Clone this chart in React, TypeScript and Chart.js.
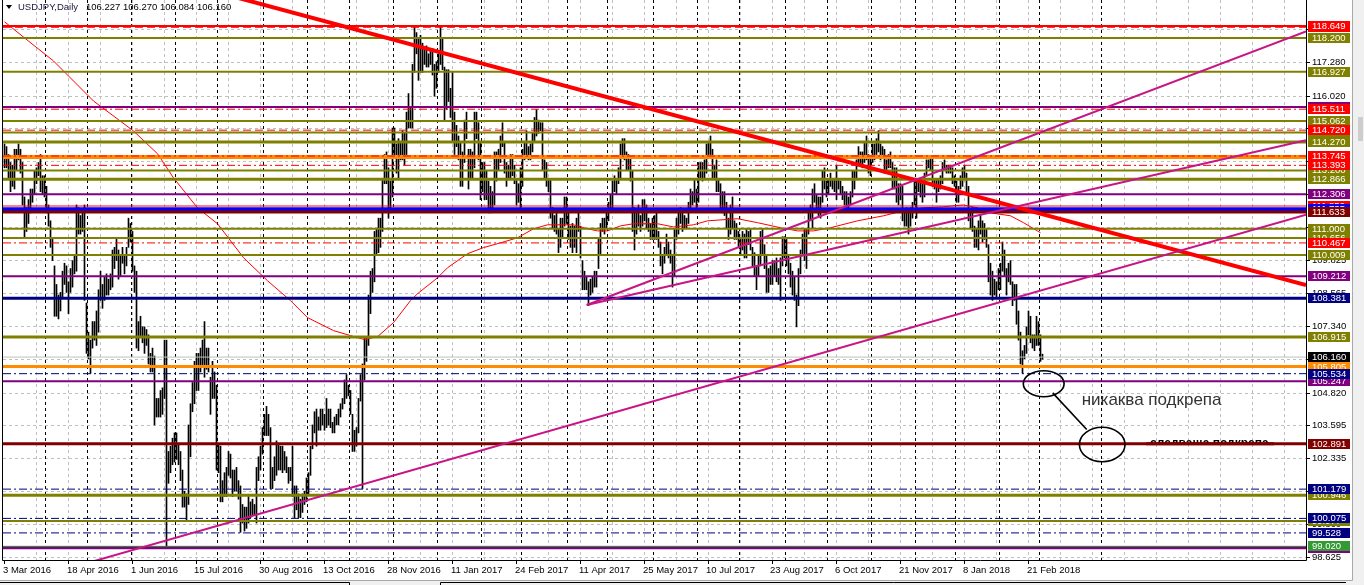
import { useEffect, useRef } from "react";
import { Chart, registerables } from "chart.js";

Chart.register(...registerables);

// ---------- DATA ----------
const START_DATE = "2016-03-03";
const HOLIDAYS = ["2017-12-25", "2018-01-01"];
const FUTURE_MARKERS = ["2018-04-01"];

const barHigh = [
  114.2,114.1,113.8,113.5,113.4,114.0,114.0,114.2,114.0,113.5,112.2,111.8,112.1,112.5,112.5,113.2,113.3,113.5,113.8,113.0,113.0,
  112.6,111.9,111.3,110.6,109.6,108.9,108.5,108.6,109.4,109.7,109.6,109.0,109.5,109.8,110.0,111.9,111.8,111.5,111.6,111.9,108.2,
  107.1,106.8,107.5,107.5,107.9,108.7,109.4,108.9,109.2,109.3,109.1,109.3,110.2,110.3,110.6,110.2,110.0,110.3,110.0,110.3,111.4,111.2,
  110.9,109.6,109.4,107.5,107.7,107.3,107.3,107.2,107.0,106.3,106.5,106.2,104.6,104.6,104.9,105.0,106.8,106.8,102.6,102.8,103.1,103.3,
  103.3,102.9,102.6,101.9,101.1,101.0,103.6,104.4,105.2,106.0,106.3,106.3,106.5,106.8,107.5,106.5,106.5,105.4,106.0,105.6,105.1,
  102.9,102.8,101.5,101.8,102.0,102.6,102.5,101.9,101.9,102.0,101.5,101.3,100.6,100.5,100.5,100.9,100.7,100.8,100.6,102.0,102.4,102.8,103.5,
  104.0,104.3,104.0,103.5,102.0,102.4,103.0,102.9,102.8,102.8,102.6,102.4,102.0,102.0,102.8,101.3,101.3,101.0,100.8,101.0,101.1,101.6,
  101.8,102.8,103.6,104.1,104.2,103.9,104.2,104.2,104.0,104.6,104.2,104.2,103.7,103.9,104.0,104.2,104.4,104.6,105.3,105.5,105.1,
  104.9,104.0,103.4,103.5,104.6,105.5,105.9,106.9,106.9,108.5,109.4,109.5,110.9,111.0,111.4,111.4,112.9,113.8,113.9,113.3,112.8,114.8,
  114.8,114.2,114.4,114.3,114.7,114.6,115.4,116.1,115.6,117.2,118.66,118.4,118.2,118.3,118.0,117.8,117.9,117.6,117.8,117.8,117.2,117.3,
  117.6,118.6,118.2,117.1,117.0,117.0,116.3,116.9,115.4,114.9,114.5,114.3,113.9,115.1,115.4,114.0,114.0,113.9,115.4,115.4,115.0,114.3,
  113.5,113.5,113.2,112.8,112.6,112.4,113.9,113.9,114.0,114.5,115.0,114.3,113.5,113.4,113.8,113.8,113.4,112.9,112.7,113.3,
  114.0,114.3,114.7,114.1,114.2,114.6,115.2,115.5,115.1,115.0,115.0,113.6,113.5,112.9,112.9,111.8,111.5,111.6,111.0,111.4,111.4,112.2,112.2,
  111.6,111.1,111.2,111.1,111.4,111.6,111.1,109.8,109.4,109.2,109.0,109.1,109.2,109.4,109.4,110.6,111.2,111.4,111.4,111.6,
  112.0,112.3,112.8,113.0,112.9,113.3,114.2,114.4,114.4,113.9,113.8,113.7,113.2,111.8,111.6,111.9,111.5,112.1,112.1,111.9,111.4,111.2,111.4,
  111.5,111.7,110.9,110.5,110.0,110.3,110.8,110.5,110.2,110.0,111.0,111.4,111.6,111.8,111.6,111.5,111.4,112.0,112.5,112.4,112.9,112.5,
  113.5,113.5,113.5,113.6,114.2,114.3,114.5,114.0,113.4,113.6,112.9,112.7,112.4,112.4,112.0,111.4,111.9,112.2,111.3,111.2,110.9,
  110.6,110.9,110.8,111.0,110.9,111.0,110.3,110.1,109.6,110.0,110.9,111.0,110.4,110.0,109.5,109.6,109.8,109.8,109.9,109.5,109.9,110.7,110.7,
  110.6,110.0,109.7,109.4,109.2,108.5,109.5,110.2,110.8,111.0,111.0,111.6,111.9,112.5,112.7,112.3,112.2,112.2,113.2,113.3,112.8,
  112.9,113.1,112.9,112.9,113.4,112.9,112.8,112.6,112.4,112.4,112.2,112.4,113.2,113.2,113.6,114.1,113.9,113.9,114.3,114.5,113.8,113.7,
  114.2,114.2,114.4,114.7,114.2,114.1,114.0,113.6,113.8,113.9,113.5,113.3,113.3,112.7,112.7,112.6,111.6,111.8,111.6,111.8,112.0,112.9,
  112.9,112.9,112.9,112.7,113.1,113.6,113.6,113.7,113.7,112.9,112.9,112.9,113.0,113.5,113.6,113.4,113.4,113.4,113.3,113.0,
  112.8,112.6,113.0,113.3,113.4,113.1,112.6,111.7,111.8,111.1,111.0,111.3,111.5,111.3,111.2,111.0,110.4,109.7,109.4,109.1,109.0,109.5,
  109.7,110.5,110.2,109.5,109.7,109.8,109.0,108.9,108.9,107.9,107.1,106.4,106.6,107.3,107.9,107.7,107.0,107.0,107.7,107.5,
  107.0,106.27,
];

const barLow = [
  113.3,113.3,112.9,112.4,112.6,112.5,113.2,113.6,113.1,111.9,110.7,110.9,111.2,111.6,112.0,112.3,112.7,113.0,112.4,112.3,112.2,
  111.6,111.1,110.3,109.8,107.7,107.7,107.6,107.9,108.4,108.9,108.6,107.8,108.6,108.8,109.3,109.4,110.8,110.8,110.9,108.3,106.3,
  106.1,105.55,106.5,106.8,106.6,107.1,108.3,108.0,108.3,108.5,108.5,108.7,108.8,109.5,109.8,109.1,109.2,109.7,109.3,109.6,110.3,110.5,
  109.4,108.6,106.5,106.4,106.9,106.7,106.3,106.6,105.9,105.6,105.6,103.6,103.9,103.9,103.9,104.0,104.6,99.0,101.4,101.8,102.1,102.2,
  102.3,102.1,101.5,100.5,100.5,99.99,100.6,102.4,104.1,104.4,104.9,104.9,105.6,105.8,105.4,105.7,105.6,104.0,104.6,104.6,101.9,
  101.8,100.7,100.7,100.9,100.9,101.7,101.6,100.9,101.1,101.1,100.8,99.55,99.9,99.6,99.7,99.9,100.1,100.2,100.2,99.9,101.5,101.9,102.5,
  103.2,103.2,103.2,101.2,101.2,101.5,101.7,101.9,101.9,101.8,101.9,101.8,101.4,101.5,100.9,100.1,100.4,100.1,100.1,100.3,100.6,100.7,
  101.0,101.7,102.7,103.3,102.8,103.4,103.4,103.6,103.4,103.5,103.6,103.5,103.3,103.3,103.6,103.6,103.9,104.2,104.4,104.6,104.7,
  104.0,102.6,102.6,102.8,103.3,104.5,101.2,105.3,106.0,106.6,107.8,108.6,109.0,110.0,110.1,110.3,110.9,112.7,112.7,111.4,111.6,112.2,
  113.7,113.1,112.9,113.6,113.6,113.4,113.8,114.8,114.8,114.8,116.9,117.6,116.6,116.9,116.9,117.2,117.1,117.1,117.2,116.8,116.0,116.3,
  116.9,117.2,117.0,115.1,115.5,115.8,115.2,114.3,113.8,114.1,113.6,112.6,112.6,113.5,114.4,112.5,112.9,112.9,113.3,114.4,113.6,112.1,
  112.4,112.1,112.1,111.6,111.6,111.7,111.9,112.8,113.2,113.5,114.1,113.1,112.6,112.9,112.9,113.0,112.7,111.9,112.0,111.8,
  112.6,113.6,113.8,113.6,113.6,113.9,114.3,114.5,114.6,114.7,113.2,112.9,112.6,112.4,111.4,111.0,110.9,110.8,110.1,110.3,110.7,111.1,111.2,
  110.6,110.3,110.1,110.3,110.1,110.9,109.9,108.7,108.7,108.7,108.1,108.5,108.6,108.8,108.8,109.5,110.0,110.9,110.8,111.0,
  111.3,111.7,111.8,112.4,112.3,112.7,112.9,113.7,113.6,113.2,113.2,112.8,110.9,110.2,110.8,111.1,110.9,111.1,111.3,111.0,110.9,110.6,110.6,
  110.6,110.6,110.3,109.6,109.3,109.7,110.0,109.9,109.7,108.8,109.2,110.6,110.8,111.2,110.9,111.0,111.0,111.2,111.7,111.9,112.0,111.8,
  112.0,112.9,112.8,112.9,113.1,113.8,113.8,112.9,112.9,112.4,112.4,111.7,111.6,111.5,111.0,110.6,110.8,111.0,110.6,110.6,110.3,
  110.0,110.2,109.9,109.9,110.4,110.2,109.6,109.2,108.7,109.2,109.6,110.0,109.5,108.6,108.6,108.9,108.9,109.2,109.0,108.9,108.3,109.6,109.9,
  109.6,109.3,108.8,108.5,108.3,107.3,108.1,109.3,110.0,109.8,109.5,110.8,111.3,111.0,112.0,111.7,111.5,111.4,112.0,112.5,112.2,
  112.3,112.6,112.5,112.4,112.1,112.5,112.3,112.1,111.9,111.7,111.7,111.9,112.2,112.5,112.9,113.4,113.4,113.3,113.5,113.6,113.1,113.0,
  113.5,113.6,113.8,113.9,113.6,113.7,113.1,113.2,113.3,113.3,112.5,112.5,112.0,111.9,112.1,111.3,111.1,111.1,110.8,111.1,111.4,111.9,
  111.4,112.4,112.2,112.0,112.2,113.0,113.3,113.2,112.6,112.5,112.0,112.4,112.5,112.7,113.2,113.1,113.1,113.1,112.7,112.6,
  112.0,112.0,112.5,112.6,112.9,112.3,111.3,111.0,110.9,110.3,110.3,110.2,110.8,110.5,110.6,110.3,109.0,108.5,108.3,108.5,108.4,108.7,
  108.7,109.4,109.2,108.5,109.0,108.9,108.1,108.3,107.4,106.8,105.9,105.55,106.1,106.3,107.0,106.7,106.5,106.4,106.6,106.6,
  106.0,106.08,
];

// moving average (read at sample bars)
const maIndex = [0,12,24.5,44.5,64.5,76.5,84.5,96.5,106.5,119.5,131.5,143,151.5,164.5,173,180,186.5,194.5,203,206.5,216.5,221.5,231.5,239.5,248,256.5,264.5,271.5,284.5,291.5,296.5,301.5,308,314.5,326.5,334.5,344.5,351.5,366.5,376.5,388,396.5,404.5,413,426.5,439.5,449.5,459.5,469.5,479.5,486.5,493,503,509.5,518];
const maValue = [118.81,118.08,117.33,115.82,114.69,113.83,112.92,111.79,111.19,109.91,109.04,108.29,107.65,107.16,106.97,106.82,106.93,107.46,108.29,108.55,109.15,109.53,110.06,110.29,110.47,110.66,111.0,111.15,111.15,111.0,110.92,110.92,111.11,111.19,111.19,111.07,111.15,111.3,111.38,111.23,111.04,110.92,110.92,111.04,111.3,111.49,111.68,111.79,111.83,111.9,111.79,111.6,111.49,111.23,110.85];

// horizontal levels (label drawing follows this order)
const levelPrice = [118.600,118.649,118.200,116.927,115.594,115.511,115.062,114.632,114.720,114.270,113.707,113.745,113.200,113.393,112.866,112.306,111.859,111.735,111.633,110.656,111.000,110.467,110.009,109.212,108.381,106.915,105.805,106.160,105.247,105.534,102.891,100.946,101.179,99.977,100.075,99.528,98.969,99.020];
const levelColor = ["#FF0000","#FF0000","#808000","#808000","#800080","#FF0000","#808000","#808000","#FF0000","#808000","#FF8C00","#FF0000","#808000","#FF0000","#808000","#800080","#FF0000","#0000FF","#800000","#808000","#808000","#FF0000","#808000","#800080","#000080","#808000","#FF8C00","#C0C0C0","#800080","#000080","#800000","#808000","#000080","#808000","#000080","#000080","#800080","#2E8B2E"];
const levelWidth = [1,2,2,2,2,1,2,2,1,3,4,1,2,1,3,2,1,4,3,2,2,1,2,2,3,3,3,1,2,1,3,3,1,2,1,1,3,1];
const levelStyle = ["dash","solid","solid","solid","solid","dashdot","solid","solid","dash","solid","solid","dashdot","solid","dashdot","solid","solid","solid","solid","solid","solid","solid","dashdot","solid","solid","solid","solid","solid","solid","solid","dashdot","solid","solid","dashdot","solid","dashdot","dashdot","solid","solid"];
const levelLabelBg = ["#FF0000","#FF0000","#808000","#808000","#800080","#FF0000","#808000","#808000","#FF0000","#808000","#FF8C00","#FF0000","#808000","#FF0000","#808000","#800080","#FF0000","#0000FF","#800000","#808000","#808000","#FF0000","#808000","#800080","#000080","#808000","#FF8C00","#000000","#800080","#000080","#800000","#808000","#000080","#808000","#000080","#000080","#800080","#339933"];

// trend lines: [startIndex, startPrice, endIndex, endPrice]
const trendStartIdx = [100, 291.1, 291.1, 37.75];
const trendStartPrice = [120.05, 108.125, 108.125, 98.313];
const trendEndIdx = [650.75, 650.75, 650.75, 650.75];
const trendEndPrice = [108.879, 118.445, 114.341, 111.531];
const trendColor = ["#FF0000", "#C71585", "#C71585", "#C71585"];
const trendWidth = [4, 2, 2, 2];

// price scale ticks
const gridValues = [98.625,99.86,101.10,102.335,103.595,104.820,106.08,107.340,108.565,109.825,111.07,112.32,113.56,114.80,116.020,117.280,118.52];
const gridTexts = ["98.625","99.860","101.100","102.335","103.595","104.820","106.080","107.340","108.565","109.825","111.070","112.320","113.560","114.800","116.020","117.280",""];

// time scale labels (every 32 bars)
const dateLabels = ["3 Mar 2016","18 Apr 2016","1 Jun 2016","15 Jul 2016","30 Aug 2016","13 Oct 2016","28 Nov 2016","11 Jan 2017","24 Feb 2017","11 Apr 2017","25 May 2017","10 Jul 2017","23 Aug 2017","6 Oct 2017","21 Nov 2017","8 Jan 2018","21 Feb 2018"];

const headerSymbol = "USDJPY,Daily";
const headerOHLC = "106.227 106.270 106.084 106.160";

// annotations (index, price)
const note1 = { idx: 519.6, price: 105.156, rIdx: 10.2, rPrice: 0.49 };
const note2 = { idx: 548.85, price: 102.862, rIdx: 11.4, rPrice: 0.65 };
const noteLink = [524.1, 104.81, 541.1, 103.43];
const noteText = "никаква подкрепа";
const noteTextPos = [538.6, 104.515];
const hiddenText = "следваща подкрепа";
const hiddenTextPos = [572.8, 102.891];

// ---------- LAYOUT CONSTANTS ----------
const W = 1364;
const H = 585;
const X_MIN = -0.75;
const X_MAX = 650.75;
const Y_MIN = 98.506;
const Y_MAX = 119.63;
const FONT = "9.5px 'Liberation Sans', Arial, sans-serif";

function barDates(n: number) {
  const out: Date[] = [];
  const d = new Date(START_DATE + "T00:00:00Z");
  while (out.length < n) {
    const dow = d.getUTCDay();
    const iso = d.toISOString().slice(0, 10);
    if (dow !== 0 && dow !== 6 && !HOLIDAYS.includes(iso)) out.push(new Date(d.getTime()));
    d.setUTCDate(d.getUTCDate() + 1);
  }
  return out;
}

function dashFor(style: string) {
  if (style === "dash") return [8, 4];
  if (style === "dashdot") return [8, 3, 2, 3];
  return [];
}

export default function App() {
  const ref = useRef<HTMLCanvasElement | null>(null);

  useEffect(() => {
    const canvas = ref.current;
    if (!canvas) return;
    const n = barHigh.length;
    const dates = barDates(n);
    const separators: number[] = [];
    for (let i = 1; i < n; i++) {
      if (dates[i].getUTCMonth() !== dates[i - 1].getUTCMonth()) separators.push(i);
    }
    const last = dates[n - 1].getTime();
    FUTURE_MARKERS.forEach((s) => {
      const t = new Date(s + "T00:00:00Z").getTime();
      separators.push(n - 1 + Math.round((t - last) / 86400000));
    });

    const bars = barHigh.map((h, i) => ({ x: i, y: [barLow[i], h] }));

    const datasets: any[] = [];
    datasets.push({
      type: "bar",
      data: bars,
      backgroundColor: "#000000",
      borderWidth: 0,
      barThickness: 1,
      order: 100,
    });
    datasets.push({
      type: "line",
      data: maIndex.map((x, i) => ({ x, y: maValue[i] })),
      borderColor: "#FF0000",
      borderWidth: 1,
      pointRadius: 0,
      tension: 0,
      order: 60,
    });
    levelPrice.forEach((p, i) => {
      datasets.push({
        type: "line",
        data: [
          { x: X_MIN, y: p },
          { x: X_MAX, y: p },
        ],
        borderColor: levelColor[i],
        borderWidth: levelWidth[i],
        borderDash: dashFor(levelStyle[i]),
        pointRadius: 0,
        order: 50 - i * 0.1,
      });
    });
    trendStartIdx.forEach((s, i) => {
      datasets.push({
        type: "line",
        data: [
          { x: s, y: trendStartPrice[i] },
          { x: trendEndIdx[i], y: trendEndPrice[i] },
        ],
        borderColor: trendColor[i],
        borderWidth: trendWidth[i],
        pointRadius: 0,
        order: 5 - i * 0.1,
      });
    });

    const plugin = {
      id: "mt4",
      beforeDraw(chart: any) {
        const ctx = chart.ctx;
        ctx.save();
        ctx.fillStyle = "#ffffff";
        ctx.fillRect(0, 0, chart.width, chart.height);
        ctx.restore();
      },
      beforeDatasetsDraw(chart: any) {
        const ctx = chart.ctx;
        const xs = chart.scales.x;
        const ys = chart.scales.y;
        const a = chart.chartArea;
        ctx.save();
        ctx.lineWidth = 1;
        ctx.setLineDash([3, 3]);
        ctx.strokeStyle = "#C0C0C0";
        for (let k = 1; k * 16 <= X_MAX; k++) {
          const x = Math.floor(xs.getPixelForValue(k * 16)) + 0.5;
          if (x >= a.right) break;
          ctx.beginPath();
          ctx.moveTo(x, a.top);
          ctx.lineTo(x, a.bottom);
          ctx.stroke();
        }
        gridValues.forEach((v) => {
          const y = Math.round(ys.getPixelForValue(v)) + 0.5;
          ctx.beginPath();
          ctx.moveTo(a.left, y);
          ctx.lineTo(a.right, y);
          ctx.stroke();
        });
        ctx.strokeStyle = "#000000";
        separators.forEach((i) => {
          const x = Math.round(xs.getPixelForValue(i) - 1.5) + 0.5;
          if (x >= a.right) return;
          ctx.beginPath();
          ctx.moveTo(x, a.top);
          ctx.lineTo(x, a.bottom);
          ctx.stroke();
        });
        ctx.restore();
      },
      afterDatasetsDraw(chart: any) {
        const ctx = chart.ctx;
        const xs = chart.scales.x;
        const ys = chart.scales.y;
        const a = chart.chartArea;
        const X = (v: number) => xs.getPixelForValue(v);
        const Y = (v: number) => ys.getPixelForValue(v);
        ctx.save();

        // annotations
        ctx.strokeStyle = "#000000";
        ctx.lineWidth = 1.6;
        ctx.setLineDash([]);
        [note1, note2].forEach((e) => {
          const cx = X(e.idx);
          const cy = Y(e.price);
          const rx = X(e.idx + e.rIdx) - cx;
          const ry = cy - Y(e.price + e.rPrice);
          ctx.beginPath();
          ctx.ellipse(cx, cy, rx, ry, 0, 0, Math.PI * 2);
          ctx.stroke();
        });
        ctx.beginPath();
        ctx.moveTo(X(noteLink[0]), Y(noteLink[1]));
        ctx.lineTo(X(noteLink[2]), Y(noteLink[3]));
        ctx.stroke();
        ctx.fillStyle = "#333333";
        ctx.font = "17px 'Liberation Sans', Arial, sans-serif";
        ctx.textBaseline = "middle";
        ctx.textAlign = "left";
        ctx.fillText(noteText, X(noteTextPos[0]), Y(noteTextPos[1]));
        // text partly hidden under the support line
        const hy = Y(hiddenTextPos[1]);
        ctx.save();
        ctx.beginPath();
        ctx.rect(X(hiddenTextPos[0]) - 2, hy - 4, 120, 4);
        ctx.clip();
        ctx.fillStyle = "#000000";
        ctx.font = "bold 12px 'Liberation Sans', Arial, sans-serif";
        ctx.textBaseline = "alphabetic";
        ctx.fillText(hiddenText, X(hiddenTextPos[0]), hy + 3);
        ctx.restore();
        ctx.strokeStyle = "#800000";
        ctx.lineWidth = 3;
        ctx.beginPath();
        ctx.moveTo(X(hiddenTextPos[0]) - 4, hy);
        ctx.lineTo(X(hiddenTextPos[0]) + 124, hy);
        ctx.stroke();

        // frame
        ctx.strokeStyle = "#000000";
        ctx.lineWidth = 1;
        ctx.beginPath();
        ctx.moveTo(a.left - 0.5, 0);
        ctx.lineTo(a.left - 0.5, a.bottom + 0.5);
        ctx.lineTo(a.right + 0.5, a.bottom + 0.5);
        ctx.lineTo(a.right + 0.5, 0);
        ctx.stroke();

        // time labels
        ctx.font = FONT;
        ctx.fillStyle = "#000000";
        ctx.textBaseline = "middle";
        dateLabels.forEach((t, k) => {
          const x = X(k * 32);
          ctx.beginPath();
          ctx.moveTo(Math.floor(x) + 0.5, a.bottom + 1);
          ctx.lineTo(Math.floor(x) + 0.5, a.bottom + 4);
          ctx.stroke();
          ctx.fillText(t, Math.round(x) - 2, a.bottom + 10.5);
        });

        // price scale plain ticks
        gridValues.forEach((v, k) => {
          const y = Math.round(Y(v));
          ctx.beginPath();
          ctx.moveTo(a.right + 1, y + 0.5);
          ctx.lineTo(a.right + 4, y + 0.5);
          ctx.stroke();
          if (gridTexts[k]) ctx.fillText(gridTexts[k], a.right + 6, y + 0.5);
        });

        // level labels
        levelPrice.forEach((p, i) => {
          const y = Math.round(Y(p));
          ctx.fillStyle = levelLabelBg[i];
          ctx.fillRect(a.right + 2, y - 5, 42, 10);
          ctx.fillStyle = "#ffffff";
          ctx.fillText(p.toFixed(3), a.right + 6, y + 0.5);
        });

        // header
        ctx.fillStyle = "#000000";
        ctx.beginPath();
        ctx.moveTo(6, 5);
        ctx.lineTo(12, 5);
        ctx.lineTo(9, 9);
        ctx.closePath();
        ctx.fill();
        ctx.font = FONT;
        ctx.fillStyle = "#1a1a3a";
        ctx.fillText(headerSymbol, 18, 7);
        ctx.fillStyle = "#000000";
        ctx.fillText(headerOHLC, 86, 7);

        // window chrome
        ctx.fillStyle = "#F0F0F0";
        ctx.fillRect(1353, 0, 11, H);
        ctx.fillRect(0, 581, 1353, 4);
        ctx.strokeStyle = "#A8A8A8";
        ctx.beginPath();
        ctx.moveTo(1352.5, 0);
        ctx.lineTo(1352.5, 580.5);
        ctx.lineTo(0, 580.5);
        ctx.stroke();
        ctx.fillStyle = "#CDCDCD";
        ctx.fillRect(1358, 117, 5, 24);
        ctx.strokeStyle = "#000000";
        ctx.beginPath();
        ctx.moveTo(0, 582.5);
        ctx.lineTo(349.5, 582.5);
        ctx.lineTo(349.5, H);
        ctx.moveTo(440.5, H);
        ctx.lineTo(440.5, 582.5);
        ctx.lineTo(1346, 582.5);
        ctx.stroke();

        ctx.restore();
      },
    };

    const chart = new Chart(canvas, {
      type: "bar",
      data: { datasets },
      options: {
        animation: false,
        responsive: false,
        devicePixelRatio: 1,
        events: [],
        layout: { padding: { left: 3, right: 58, top: 0, bottom: 25 } },
        plugins: { legend: { display: false }, tooltip: { enabled: false } },
        scales: {
          x: { type: "linear", min: X_MIN, max: X_MAX, display: false, offset: false },
          y: { type: "linear", min: Y_MIN, max: Y_MAX, display: false },
        },
      } as any,
      plugins: [plugin],
    } as any);

    return () => chart.destroy();
  }, []);

  return (
    <div style={{ position: "absolute", left: 0, top: 0, width: W, height: H, background: "#fff" }}>
      <canvas ref={ref} width={W} height={H} style={{ width: W, height: H, display: "block" }} />
    </div>
  );
}
